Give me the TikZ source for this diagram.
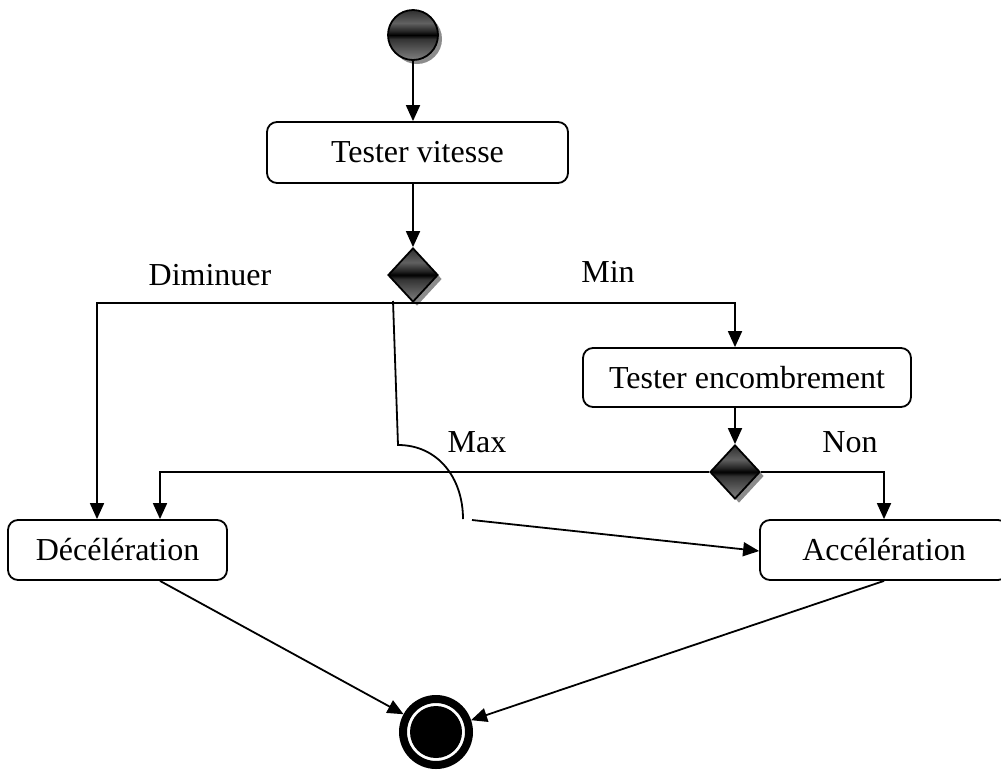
\documentclass[tikz,border=0pt]{standalone}
\usepackage{fontspec}
\setmainfont{Liberation Serif}
\usetikzlibrary{arrows.meta,shapes.geometric,shadows}

% glossy fill for the start node and the decision diamonds
\pgfdeclareverticalshading{glossy}{100bp}{%
  color(0bp)=(black!50); color(25bp)=(black!50);
  color(46bp)=(black!80); color(50bp)=(black); color(54bp)=(black!85);
  color(62bp)=(black!62); color(75bp)=(black!82); color(100bp)=(black!82)}

\tikzset{
  every node/.style={font=\fontsize{32}{38}\selectfont},
  line/.style={line width=1.8pt, black},
  arr/.style={line, -{Triangle[length=16pt,width=14pt]}},
  action/.style={draw, line width=1.8pt, rounded corners=10pt, inner sep=0pt},
  glossyshape/.style={draw, line width=1.8pt, shading=glossy, inner sep=0pt,
    drop shadow={shadow xshift=4pt, shadow yshift=-4pt, fill=black!45, opacity=1}},
  decision/.style={glossyshape, diamond, minimum width=50pt, minimum height=54pt},
  label/.style={inner sep=0pt},
}

\begin{document}
\begin{tikzpicture}[x=1pt,y=-1pt]
  \clip (0,0) rectangle (1001,769);
  \useasboundingbox (0,0) rectangle (1001,769);

  % start node
  \node[glossyshape, circle, minimum size=50pt] (start) at (413,35) {};

  % actions
  \node[action, minimum width=301pt, minimum height=61pt] (tv) at (417.5,152.5) {Tester vitesse};
  \node[action, minimum width=328pt, minimum height=59pt] (te) at (747,377.5) {Tester encombrement};
  \node[action, minimum width=219pt, minimum height=60pt] (dec) at (117.5,550) {Décélération};
  \node[action, minimum width=248pt, minimum height=60pt] (acc) at (884,550) {Accélération};

  % decisions
  \node[decision] (d1) at (413,275) {};
  \node[decision] (d2) at (735,472) {};

  % final node
  \node[circle, draw, line width=8pt, fill=white, minimum size=66pt, inner sep=0pt] (fin) at (436,732) {};
  \fill (fin.center) circle (26);

  % guard labels
  \node[label] (lDim) at (210,275) {Diminuer};
  \node[label] (lMin) at (608,272) {Min};
  \node[label] (lMax) at (477,442) {Max};
  \node[label] (lNon) at (850,442) {Non};

  % flow
  \draw[arr] (start) -- (start |- tv.north);
  \draw[arr] (d1 |- tv.south) -- (d1.north);
  \draw[arr] (d1.south) -| ([xshift=-20.5pt]dec.north);
  \draw[arr] (d1.south) -| ([xshift=-12pt]te.north);
  \draw[arr] ([xshift=-12pt]te.south) -- (d2.north);
  \draw[arr] (d2.west) -| ([xshift=42.5pt]dec.north);
  \draw[arr] (d2.east) -| (acc.north);

  % "Max" branch, hopping over the horizontal flow
  \coordinate (mx0) at (393,301);
  \coordinate (hop0) at (398,445);
  \coordinate (hop1) at (463,519);
  \coordinate (mx1) at (472,520);
  \draw[line] (mx0) -- (hop0) .. controls (438,445) and (463,478) .. (hop1);
  \draw[arr] (mx1) -- ([yshift=-1pt]acc.west);

  % towards the final node
  \draw[arr] ([xshift=42.5pt]dec.south) -- (fin);
  \draw[arr] (acc.south) -- (fin);
\end{tikzpicture}
\end{document}
